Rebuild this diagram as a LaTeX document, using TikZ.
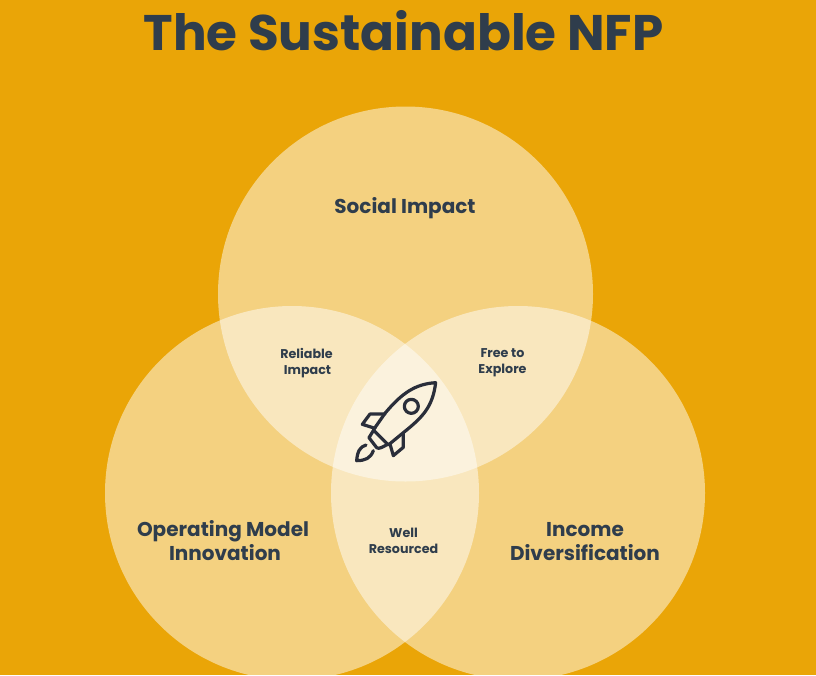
\documentclass[tikz,border=0pt]{standalone}
\usepackage{fontspec}
\setmainfont{Poppins}[BoldFont={Poppins Bold}]
\usepackage{xcolor}
\definecolor{bgamber}{HTML}{EAA507}
\definecolor{inkblue}{HTML}{2F3D4C}
\definecolor{rocketink}{HTML}{2A2E3A}
\tikzset{
  petal/.style={circle, fill=white, fill opacity=0.49, inner sep=0pt, minimum size=#1},
  bigtext/.style={font=\bfseries\fontsize{20}{24}\selectfont, text=inkblue, align=center},
  smalltext/.style={font=\bfseries\fontsize{12.7}{16}\selectfont, text=inkblue, align=center},
  rocketline/.style={draw=rocketink, line width=3.2pt, line join=round, line cap=round}
}
\begin{document}
\begin{tikzpicture}[x=1pt, y=-1pt]
  \useasboundingbox[fill=bgamber] (0,0) rectangle (816,675);
  % Circles
  \begin{scope}
    \clip (0,0) rectangle (816,675);
    \node[petal=375pt] (social) at (405.5,294) {};
    \node[petal=374pt] (model) at (292,493) {};
    \node[petal=374pt] (income) at (518,493) {};
  \end{scope}
  % Title
  \node[font=\bfseries\fontsize{50}{58}\selectfont, text=inkblue] (title) at (403.5,30.5) {The Sustainable NFP};
  % Labels
  \node[bigtext] (lblsocial) at (405,208) {Social Impact};
  \node[bigtext] (lblmodel) at (223,541) {Operating Model\\\hspace*{4pt}Innovation};
  \node[bigtext] (lblincome) at (585,542) {Income\\Diversification};
  \node[smalltext] (lblreliable) at (306.5,363) {Reliable\\\hspace*{2pt}Impact};
  \node[smalltext] (lblfree) at (502.5,363) {Free to\\Explore};
  \node[smalltext] (lblwell) at (403.5,540.5) {Well\\Resourced};
  % Rocket
  \begin{scope}[shift={(320,360)}, x=0.3333pt, y=-0.3333pt]
    \draw[rocketline] (347,68) .. controls (285,72) and (245,100) .. (195,160)
      -- (160,210) -- (205,255) -- (250,218)
      .. controls (310,170) and (338,140) .. (347,68) -- cycle;
    \node[circle, rocketline, fill=none, minimum size=42pt, inner sep=0pt, scale=0.3333] (window) at (274,139) {};
    \draw[rocketline] (195,162) -- (150,162) -- (127,193) -- (165,205);
    \draw[rocketline] (250,220) -- (250,262) -- (220,287) -- (210,252);
    \draw[rocketline] (160,212) -- (147,233) -- (170,263) .. controls (178,268) and (185,262) .. (205,252);
    \draw[rocketline] (138,255) .. controls (120,260) and (112,275) .. (110,302)
      .. controls (135,302) and (152,295) .. (160,272);
  \end{scope}
\end{tikzpicture}
\end{document}
